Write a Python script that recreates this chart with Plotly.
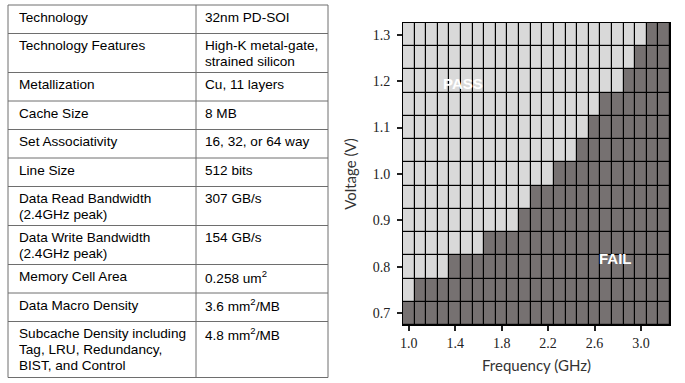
import plotly.graph_objects as go

# ---------------- data ----------------
table_params = [
    "Technology",
    "Technology Features",
    "Metallization",
    "Cache Size",
    "Set Associativity",
    "Line Size",
    "Data Read Bandwidth<br>(2.4GHz peak)",
    "Data Write Bandwidth<br>(2.4GHz peak)",
    "Memory Cell Area",
    "Data Macro Density",
    "Subcache Density including<br>Tag, LRU, Redundancy,<br>BIST, and Control",
]
table_values = [
    "32nm PD-SOI",
    "High-K metal-gate,<br>strained silicon",
    "Cu, 11 layers",
    "8 MB",
    "16, 32, or 64 way",
    "512 bits",
    "307 GB/s",
    "154 GB/s",
    "0.258 um<sup>2</sup>",
    "3.6 mm<sup>2</sup>/MB",
    "4.8 mm<sup>2</sup>/MB",
]

frequencies = [1.0, 1.1, 1.2, 1.3, 1.4, 1.5, 1.6, 1.7, 1.8, 1.9, 2.0, 2.1,
               2.2, 2.3, 2.4, 2.5, 2.6, 2.7, 2.8, 2.9, 3.0, 3.1, 3.2]
voltages = [0.70, 0.75, 0.80, 0.85, 0.90, 0.95, 1.00, 1.05, 1.10, 1.15,
            1.20, 1.25, 1.30]
# highest passing frequency (GHz) at each voltage; None = all fail
max_pass_freq = [None, 1.0, 1.3, 1.6, 1.9, 2.0, 2.2, 2.4, 2.5, 2.6,
                 2.8, 2.9, 3.0]

x_tickvals = [1.0, 1.4, 1.8, 2.2, 2.6, 3.0]
y_tickvals = [0.7, 0.8, 0.9, 1.0, 1.1, 1.2, 1.3]

# ---------------- layout constants (pixels) ----------------
W, H = 685, 383
PLOT_L, PLOT_R, PLOT_T, PLOT_B = 403, 670, 23, 325
TAB_L, TAB_MID, TAB_R, TAB_T = 8, 196, 328, 5
ROW_H = {1: 28.5, 2: 39.0, 3: 56.0}
LINE_STEP = 16
FIRST_LINE = 12
TEXT_PAD_L = 9
TEXT_PAD_R = 7

LIGHT = "#d9d9d9"
DARK = "#767171"


def px(x):
    return x / W


def py(y):
    return 1 - y / H


# shmoo matrix
z = []
for v, fmax in zip(voltages, max_pass_freq):
    row = []
    for f in frequencies:
        row.append(1 if (fmax is not None and f <= fmax + 1e-9) else 0)
    z.append(row)

fig = go.Figure()
fig.add_trace(go.Heatmap(
    x=frequencies, y=voltages, z=z,
    colorscale=[[0, DARK], [1, LIGHT]], zmin=0, zmax=1,
    showscale=False, xgap=1.2, ygap=1.2, hoverinfo="skip",
))

shapes = []
annotations = []

# table
y = TAB_T
row_lines = [y]
for p, v in zip(table_params, table_values):
    n = max(p.count("<br>"), v.count("<br>")) + 1
    for col_x, txt in ((TAB_L + TEXT_PAD_L, p), (TAB_MID + TEXT_PAD_R, v)):
        for k, line in enumerate(txt.split("<br>")):
            annotations.append(dict(
                x=px(col_x), y=py(y + FIRST_LINE + k * LINE_STEP),
                xref="paper", yref="paper", xanchor="left", yanchor="middle",
                text=line, showarrow=False,
                font=dict(family="Liberation Sans, Arial", size=13.6, color="#000"),
            ))
    y += ROW_H[n]
    row_lines.append(y)

line_style = dict(color="#6e6e6e", width=1)
for ly in row_lines:
    shapes.append(dict(type="line", xref="paper", yref="paper",
                       x0=px(TAB_L), x1=px(TAB_R), y0=py(ly), y1=py(ly),
                       line=line_style))
for lx in (TAB_L, TAB_MID, TAB_R):
    shapes.append(dict(type="line", xref="paper", yref="paper",
                       x0=px(lx), x1=px(lx), y0=py(row_lines[0]), y1=py(row_lines[-1]),
                       line=line_style))

# PASS / FAIL labels
annotations.append(dict(x=1.47, y=1.195, xref="x", yref="y", text="<b>PASS</b>",
                        showarrow=False,
                        font=dict(family="Liberation Sans, Arial", size=15, color="white")))
annotations.append(dict(x=2.78, y=0.818, xref="x", yref="y", text="<b>FAIL</b>",
                        showarrow=False,
                        font=dict(family="Liberation Sans, Arial", size=15, color="white")))

tick_font = dict(family="Liberation Serif, Times New Roman", size=14, color="#222")
title_font = dict(family="Lato, Open Sans", size=15, color="#333")

fig.update_layout(
    width=W, height=H,
    margin=dict(l=0, r=0, t=0, b=0),
    paper_bgcolor="white", plot_bgcolor="black",
    template="none",
    showlegend=False,
    shapes=shapes, annotations=annotations,
    xaxis=dict(
        domain=[px(PLOT_L), px(PLOT_R)], range=[0.95, 3.25],
        tickvals=x_tickvals, ticktext=[f"{t:.1f}" for t in x_tickvals],
        ticks="outside", ticklen=5, tickwidth=1.5, tickcolor="#222",
        tickfont=tick_font, showgrid=False, zeroline=False,
        showline=True, linecolor="black", linewidth=1, mirror=True,
        automargin=False,
        title=dict(text="Frequency (GHz)", font=title_font, standoff=10),
    ),
    yaxis=dict(
        domain=[py(PLOT_B), py(PLOT_T)], range=[0.675, 1.325],
        tickvals=y_tickvals, ticktext=[f"{t:.1f}" for t in y_tickvals],
        ticks="outside", ticklen=5, tickwidth=1.5, tickcolor="#222",
        tickfont=tick_font, showgrid=False, zeroline=False,
        showline=True, linecolor="black", linewidth=1, mirror=True,
        automargin=False, ticklabelstandoff=4,
        title=dict(text="Voltage (V)", font=title_font, standoff=12),
    ),
)

fig.write_html(
    "out.html",
    config={"displayModeBar": False},
    post_script="document.body.style.margin='0';document.body.style.padding='0';",
)
